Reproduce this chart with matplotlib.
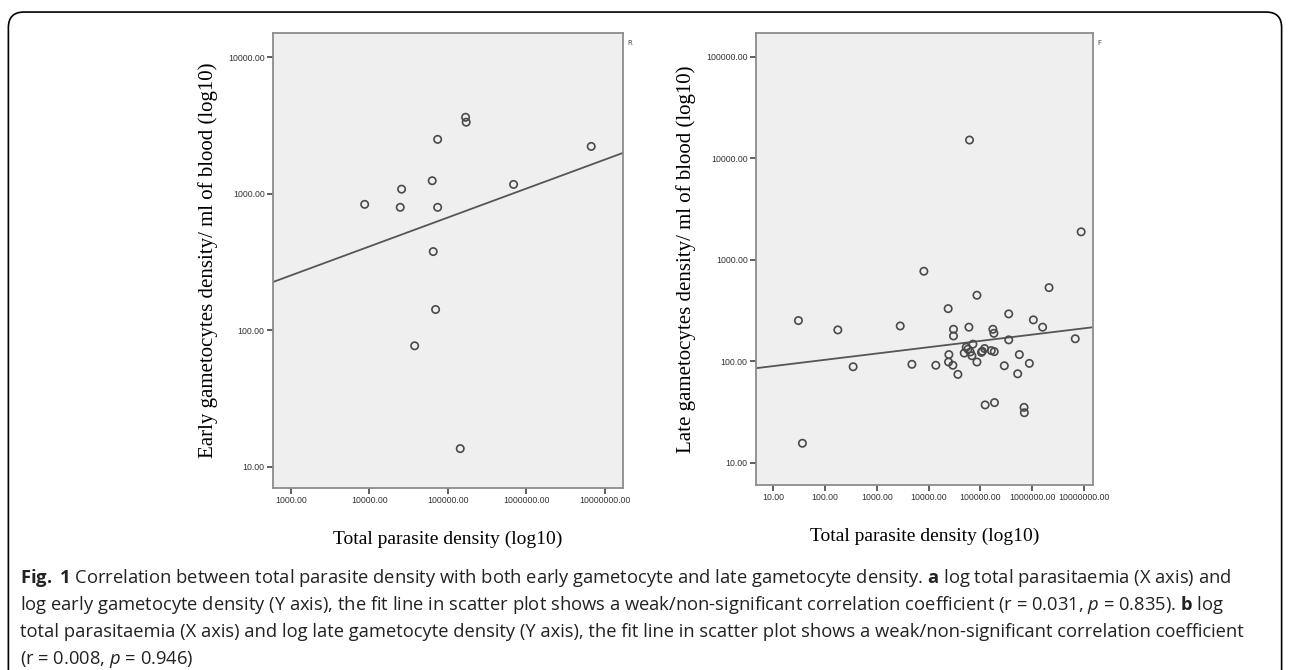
"""
Fig. 1 - total parasite density vs early / late gametocyte density (log-log scatter + fit line)
"""
import matplotlib
matplotlib.use('Agg')
import matplotlib.pyplot as plt
from matplotlib.patches import FancyBboxPatch
from matplotlib.ticker import FixedLocator, FuncFormatter, NullLocator
import numpy as np

# ---------------------------------------------------------------------------
# data
# ---------------------------------------------------------------------------
# (a) early gametocytes
x_early = [8700, 25700, 24700, 63100, 74000, 74000, 168000, 171000, 687000,
           6700000, 65000, 69700, 37700, 143600]
y_early = [836, 1080, 795, 1245, 2500, 795, 3630, 3340, 1170,
           2220, 377, 142, 77, 13.6]
fit_early = (0.212, 1.766)          # log10(y) = a*log10(x) + b

# (b) late gametocytes
x_late = [30.5, 36.4, 176, 348, 2830, 4760, 8110, 13800, 23900, 24700,
          24300, 29500, 30300, 30300, 36900, 60200, 86000, 48900, 53400, 57600,
          63800, 68800, 71900, 86000, 105000, 109000, 121000, 124000, 163000,
          175000, 183000, 186000, 188000, 61800,
          291000, 354000, 354000, 528000, 568000, 700000, 710000, 887000,
          1060000, 1600000, 2130000, 6840000, 8900000]
y_late = [251, 15.5, 203, 88, 222, 93, 769, 91, 329, 116,
          98, 91, 206, 177, 74, 216, 446, 120, 137, 131,
          123, 113, 147, 98, 122, 125, 133, 37, 127,
          206, 188, 124, 39, 15100,
          90, 292, 162, 75, 116, 35, 31, 95,
          255, 216, 530, 166, 1880]
fit_late = (0.062, 1.889)

xticks_a = [1e3, 1e4, 1e5, 1e6, 1e7]
yticks_a = [10, 100, 1000, 10000]
xticks_b = [10, 100, 1e3, 1e4, 1e5, 1e6, 1e7]
yticks_b = [10, 100, 1000, 10000, 100000]

caption = [
    r"$\bf{Fig.}$ $\bf{1}$ Correlation between total parasite density with both early gametocyte and late gametocyte density. $\bf{a}$ log total parasitaemia (X axis) and",
    r"log early gametocyte density (Y axis), the fit line in scatter plot shows a weak/non-significant correlation coefficient (r = 0.031, $\it{p}$ = 0.835). $\bf{b}$ log",
    r"total parasitaemia (X axis) and log late gametocyte density (Y axis), the fit line in scatter plot shows a weak/non-significant correlation coefficient",
    r"(r = 0.008, $\it{p}$ = 0.946)",
]

plt.rcParams['mathtext.fontset'] = 'custom'
plt.rcParams['mathtext.rm'] = 'Open Sans'
plt.rcParams['mathtext.bf'] = 'Open Sans:bold'
plt.rcParams['mathtext.it'] = 'Open Sans:italic'

PANEL_BG = "#efefef"
MARK = "#4a4a4a"


def panel(ax, xs, ys, fit, xlim, ylim, xt, yt, ylabel, corner):
    ax.set_facecolor(PANEL_BG)
    ax.scatter(xs, ys, s=28, facecolors='none', edgecolors=MARK,
               linewidths=1.2, zorder=3)
    lx = np.array(xlim)
    ax.plot(lx, 10 ** (fit[0] * np.log10(lx) + fit[1]), color="#555555",
            linewidth=1.3, zorder=2)
    ax.set_xscale('log')
    ax.set_yscale('log')
    ax.set_xlim(*xlim)
    ax.set_ylim(*ylim)
    fmt = FuncFormatter(lambda v, _: f"{v:.2f}")
    ax.xaxis.set_major_locator(FixedLocator(xt))
    ax.yaxis.set_major_locator(FixedLocator(yt))
    ax.xaxis.set_minor_locator(NullLocator())
    ax.yaxis.set_minor_locator(NullLocator())
    ax.xaxis.set_major_formatter(fmt)
    ax.yaxis.set_major_formatter(fmt)
    ax.tick_params(length=4, width=1.2, color="#444444", labelsize=6.3,
                   labelcolor="#333333", pad=2)
    for lab in ax.get_xticklabels() + ax.get_yticklabels():
        lab.set_fontfamily('Liberation Sans')
    for sp in ax.spines.values():
        sp.set_color("#8c8c8c")
        sp.set_linewidth(1.3)
    ax.set_xlabel("Total parasite density (log10)", family='Liberation Serif',
                  fontsize=14, labelpad=18)
    ax.set_ylabel(ylabel, family='Liberation Serif', fontsize=15, labelpad=7)
    ax.text(1.012, 0.985, corner, transform=ax.transAxes, fontsize=5,
            color="#444444", va='top', ha='left')


fig = plt.figure(figsize=(12.9, 6.7), dpi=100)

ax1 = fig.add_axes([0.2116, 0.2716, 0.2713, 0.679])
panel(ax1, x_early, y_early, fit_early, (590, 1.7e7), (7.0, 15000),
      xticks_a, yticks_a, "Early gametocytes density/ ml of blood (log10)", "R")

ax2 = fig.add_axes([0.586, 0.276, 0.2612, 0.6746])
panel(ax2, x_late, y_late, fit_late, (4.6, 1.5e7), (6.0, 171000),
      xticks_b, yticks_b, "Late gametocytes density/ ml of blood (log10)", "F")

# outer frame
frame = FancyBboxPatch((0.0065, -0.05), 0.987, 1.032, transform=fig.transFigure,
                       boxstyle="round,pad=0,rounding_size=0.012",
                       facecolor='none', edgecolor='black', linewidth=1.2,
                       mutation_aspect=1290 / 670)
fig.patches.append(frame)

y0 = 1 - 578 / 670
for i, line in enumerate(caption):
    fig.text(0.0155, y0 - i * 27 / 670, line, family='Open Sans', fontsize=13.2,
             va='center', ha='left', color="#222222")

fig.savefig("out.png", dpi=100)
